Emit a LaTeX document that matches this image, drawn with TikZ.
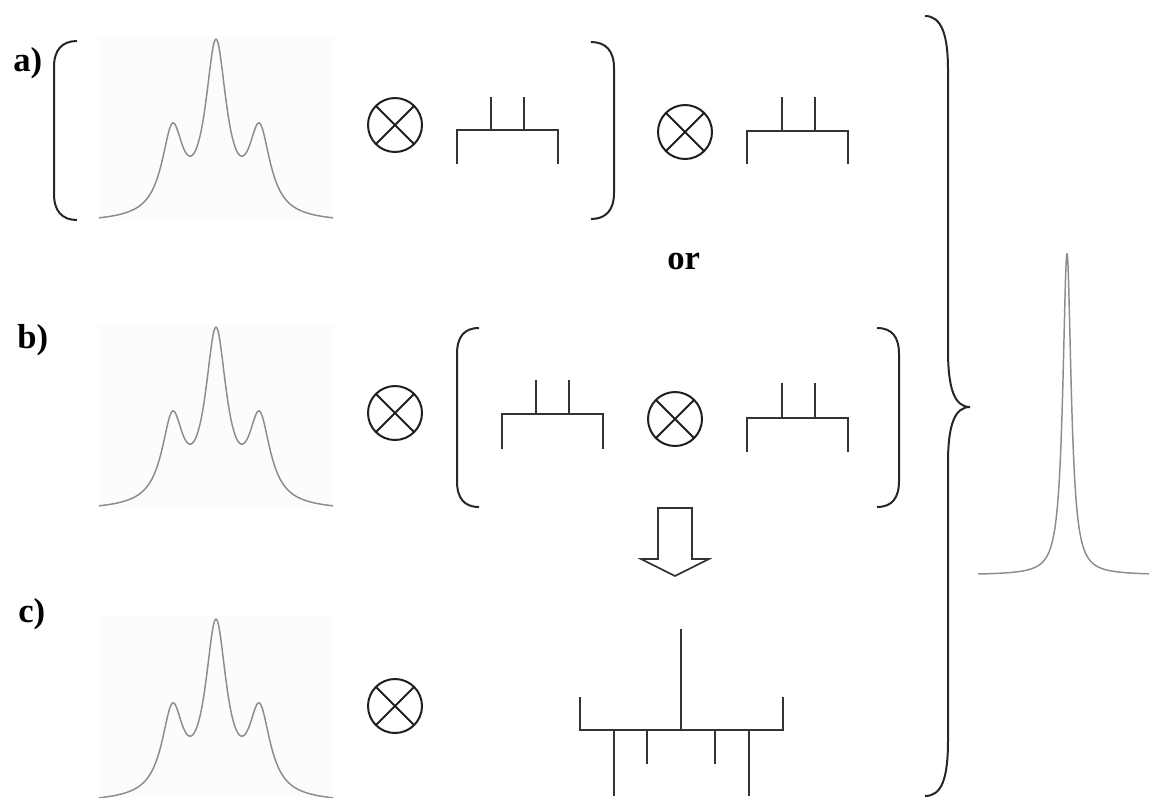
\documentclass[tikz,border=0pt]{standalone}
\usepackage{fontspec}
\setmainfont{Liberation Serif}
\begin{document}
\begin{tikzpicture}[x=0.75pt,y=-0.75pt,
  declare function={lor(\xa,\ca,\wa)=1/(1+((\xa-\ca)/\wa)^2);
    trip(\xa)=170.2*lor(\xa,216,13)+84.2*(lor(\xa,172.5,13)+lor(\xa,259.5,13));},
  ink/.style={draw=black!85, line width=1.5pt},
  stick/.style={draw=black!80, line width=1.5pt},
  spec/.style={draw=black!45, line width=1.1pt, line join=round},
  specbg/.style={fill=black!1, draw=none},
  otimes/.style={circle, draw=black!88, line width=1.5pt, minimum size=40.5pt, inner sep=0pt,
    path picture={\draw[black!88, line width=1.5pt]
      (path picture bounding box.north west) -- (path picture bounding box.south east)
      (path picture bounding box.north east) -- (path picture bounding box.south west);}},
  lab/.style={font=\fontsize{26}{30}\selectfont\bfseries, inner sep=0pt},
  arrowbox/.style={draw=black!80, line width=1.2pt, line join=miter}
]
\useasboundingbox (0,0) rectangle (1149,797);

% labels
\node[lab, anchor=base west] (labA) at (13,71) {a)};
\node[lab, anchor=base west] (labB) at (17,348) {b)};
\node[lab, anchor=base west] (labC) at (18,622) {c)};
\node[lab, anchor=base west] (labOr) at (667,269) {or};

% spectra backgrounds
\fill[specbg] (99,37) rectangle (333,222);
\fill[specbg] (99,325) rectangle (333,510);
\fill[specbg] (99,615) rectangle (333,797);

% triplet-like spectra
\draw[spec] plot[domain=99:333, samples=260, smooth] (\x, {223 - trip(\x)});
\draw[spec] plot[domain=99:333, samples=260, smooth] (\x, {511 - trip(\x)});
\draw[spec] plot[domain=99:333, samples=260, smooth] (\x, {803 - trip(\x)});

% final singlet
\draw[spec] plot[domain=978:1149, samples=340, smooth] (\x, {575 - 322*lor(\x,1067,5)});

% brackets row a
\draw[ink] (77,41) .. controls (62,41) and (54,50) .. (54,67) -- (54,194)
  .. controls (54,211) and (62,220) .. (77,220);
\draw[ink] (591,42) .. controls (606,42) and (614,51) .. (614,68) -- (614,193)
  .. controls (614,210) and (606,219) .. (591,219);
% brackets row b
\draw[ink] (479,328) .. controls (464,328) and (457,337) .. (457,354) -- (457,481)
  .. controls (457,498) and (464,507) .. (479,507);
\draw[ink] (877,328) .. controls (892,328) and (899,337) .. (899,354) -- (899,481)
  .. controls (899,498) and (892,507) .. (877,507);

% big brace
\draw[ink] (925,16) .. controls (942,16) and (948,36) .. (948,70) -- (948,350)
  .. controls (948,390) and (955,407) .. (970,407)
  .. controls (955,407) and (948,424) .. (948,463) -- (948,740)
  .. controls (948,778) and (942,796) .. (925,796);

% otimes symbols
\node[otimes] (oA1) at (395,125) {};
\node[otimes] (oA2) at (685,132) {};
\node[otimes] (oB1) at (395,413) {};
\node[otimes] (oB2) at (675,419) {};
\node[otimes] (oC) at (395,706) {};

% stick diagrams
\draw[stick] (457,164) -- (457,130) -- (558,130) -- (558,164) (491,130) -- (491,97) (524,130) -- (524,97);
\draw[stick] (747,164) -- (747,131) -- (848,131) -- (848,164) (782,131) -- (782,97) (815,131) -- (815,97);
\draw[stick] (502,449) -- (502,414) -- (603,414) -- (603,449) (536,414) -- (536,380) (569,414) -- (569,380);
\draw[stick] (747,452) -- (747,418) -- (848,418) -- (848,452) (782,418) -- (782,383) (815,418) -- (815,383);

% combined multiplet tree
\draw[stick] (580,697) -- (580,730) -- (783,730) -- (783,697)
  (681,730) -- (681,629)
  (614,730) -- (614,796) (749,730) -- (749,796)
  (647,730) -- (647,764) (715,730) -- (715,764);

% hollow arrow
\draw[arrowbox] (658,508) -- (692,508) -- (692,559) -- (709,559) -- (675,576)
  -- (641,559) -- (658,559) -- cycle;
\end{tikzpicture}
\end{document}
